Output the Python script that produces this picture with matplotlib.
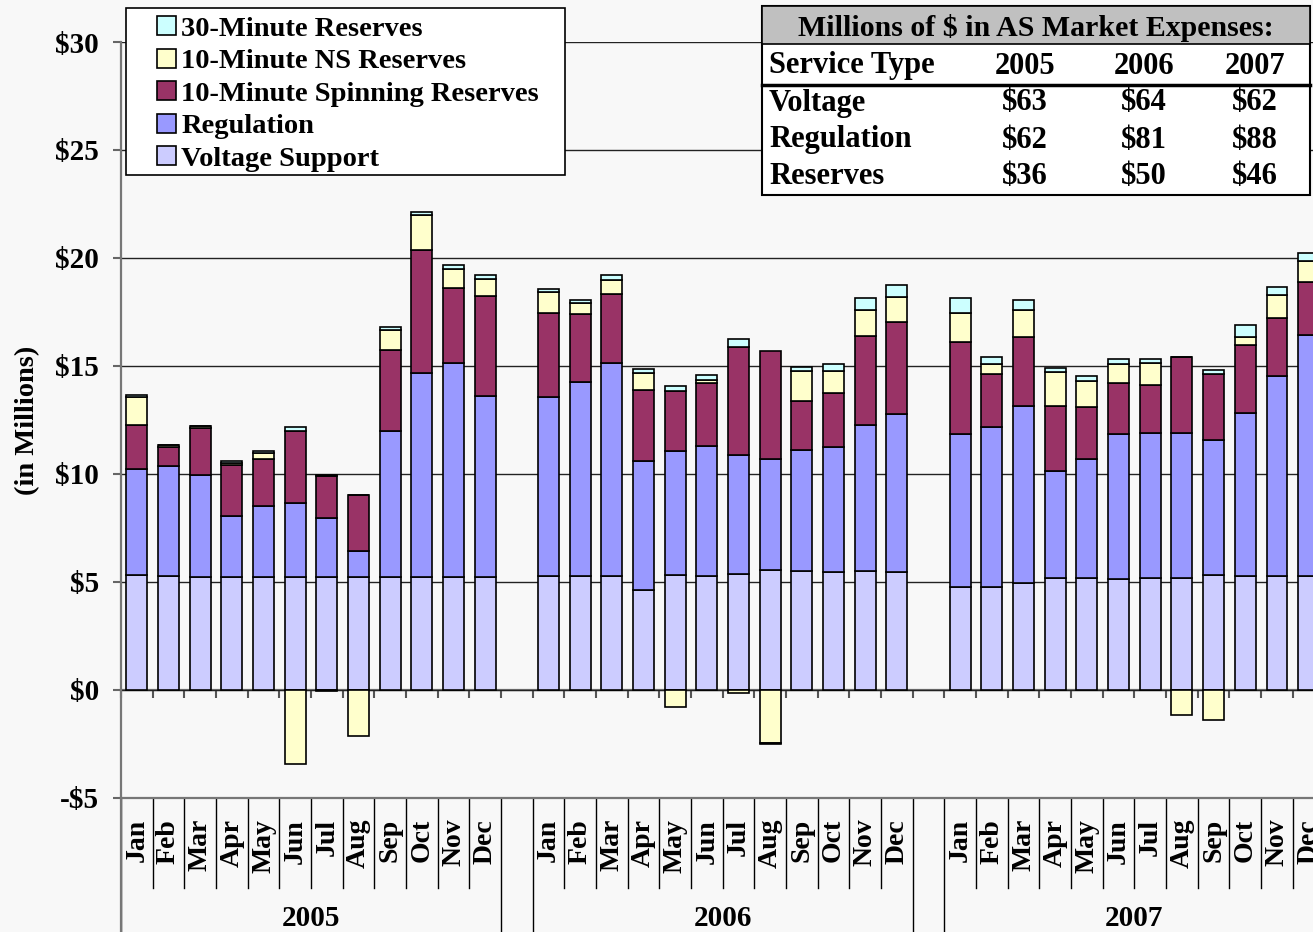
import matplotlib
matplotlib.use("Agg")
import matplotlib.pyplot as plt
import matplotlib.transforms as mtransforms
from matplotlib.patches import Patch, Rectangle
from matplotlib.lines import Line2D
import numpy as np

plt.rcParams['font.family'] = ['Liberation Serif', 'DejaVu Serif']
plt.rcParams['font.weight'] = 'bold'

# ---------------- data ----------------
years = ["2005", "2006", "2007"]
months = ["Jan", "Feb", "Mar", "Apr", "May", "Jun",
          "Jul", "Aug", "Sep", "Oct", "Nov", "Dec"]

# monthly values ($ millions), Jan 2005 ... Dec 2007
voltage_support = [5.32, 5.28, 5.25, 5.25, 5.25, 5.25, 5.25, 5.25, 5.25, 5.25, 5.25, 5.25,
                   5.28, 5.28, 5.28, 4.63, 5.31, 5.28, 5.37, 5.56, 5.51, 5.45, 5.51, 5.48,
                   4.77, 4.75, 4.94, 5.19, 5.19, 5.14, 5.17, 5.20, 5.31, 5.30, 5.30, 5.30]
regulation = [4.93, 5.09, 4.69, 2.81, 3.27, 3.41, 2.70, 1.20, 6.75, 9.44, 9.90, 8.36,
              8.30, 8.99, 9.87, 5.96, 5.75, 6.03, 5.51, 5.12, 5.59, 5.80, 6.74, 7.30,
              7.07, 7.41, 8.23, 4.95, 5.50, 6.70, 6.75, 6.68, 6.28, 7.53, 9.23, 11.12]
spinning_10 = [2.00, 0.90, 2.21, 2.34, 2.19, 3.35, 1.96, 2.58, 3.74, 5.68, 3.46, 4.63,
               3.86, 3.14, 3.17, 3.31, 2.80, 2.92, 5.00, 5.01, 2.28, 2.52, 4.15, 4.24,
               4.29, 2.45, 3.17, 3.03, 2.39, 2.38, 2.21, 3.54, 3.05, 3.12, 2.70, 2.49]
ns_10 = [1.33, 0.05, 0.05, 0.12, 0.28, -3.44, -0.03, -2.13, 0.93, 1.62, 0.88, 0.79,
         0.99, 0.52, 0.66, 0.79, -0.80, 0.11, -0.15, -2.44, 1.37, 0.98, 1.19, 1.19,
         1.32, 0.48, 1.24, 1.53, 1.22, 0.89, 1.01, -1.16, -1.41, 0.41, 1.04, 0.97]
reserves_30 = [0.06, 0.03, 0.03, 0.10, 0.09, 0.17, 0.04, 0.00, 0.15, 0.14, 0.19, 0.17,
               0.15, 0.14, 0.22, 0.17, 0.20, 0.24, 0.35, -0.04, 0.22, 0.34, 0.56, 0.54,
               0.69, 0.33, 0.47, 0.22, 0.25, 0.20, 0.19, 0.00, 0.16, 0.55, 0.37, 0.34]

series_names = ["Voltage Support", "Regulation", "10-Minute Spinning Reserves",
                "10-Minute NS Reserves", "30-Minute Reserves"]
series_values = [voltage_support, regulation, spinning_10, ns_10, reserves_30]
series_colors = ["#CCCCFF", "#9999FF", "#993366", "#FFFFCC", "#CCFFFF"]

table_title = "Millions of $ in AS Market Expenses:"
table_columns = ["Service Type", "2005", "2006", "2007"]
table_rows = ["Voltage", "Regulation", "Reserves"]
table_values = [["$63", "$64", "$62"],
                ["$62", "$81", "$88"],
                ["$36", "$50", "$46"]]

y_ticks = [-5, 0, 5, 10, 15, 20, 25, 30]

# ---------------- figure ----------------
W, H = 1313, 932
BG = "#F8F8F8"
fig = plt.figure(figsize=(W / 100, H / 100), dpi=100)
fig.patch.set_facecolor(BG)

def fx(px):
    return px / W

def fy(py):
    return 1 - py / H

n_cat = 38
cat_w = 31.67
ax_left_px, ax_top_px, ax_bot_px = 121, 42, 798
ax = fig.add_axes([fx(ax_left_px), fy(ax_bot_px), n_cat * cat_w / W, (ax_bot_px - ax_top_px) / H])
ax.set_facecolor(BG)

positions = np.array([yi * 13 + mi for yi in range(len(years)) for mi in range(len(months))])

pos_base = np.zeros(len(positions))
neg_base = np.zeros(len(positions))
for vals, color, name in zip(series_values, series_colors, series_names):
    v = np.array(vals, dtype=float)
    bottoms = np.where(v >= 0, pos_base, neg_base)
    ax.bar(positions, v, width=0.66, bottom=bottoms, color=color,
           edgecolor="black", linewidth=1.2, zorder=3, label=name)
    pos_base += np.where(v >= 0, v, 0)
    neg_base += np.where(v < 0, v, 0)

ax.set_xlim(-0.5, n_cat - 0.5)
ax.set_ylim(-5, 30)
ax.set_yticks(y_ticks)
ax.set_yticklabels([f"${t}" if t >= 0 else f"-${abs(t)}" for t in y_ticks], fontsize=21)
ax.yaxis.grid(True, color="#222222", linewidth=1.0)
ax.set_axisbelow(True)
ax.tick_params(axis="y", length=6, width=1.5, color="#666666", pad=10)

for s in ["top", "right"]:
    ax.spines[s].set_visible(False)
for s in ["left", "bottom"]:
    ax.spines[s].set_color("#777777")
    ax.spines[s].set_linewidth(1.6)

ax.set_xticks(positions)
ax.set_xticklabels(months * len(years), rotation=90, fontsize=20)
ax.tick_params(axis="x", length=0, pad=15)

# category axis at $0 with boundary tick marks
sec = ax.secondary_xaxis(5 / 35)
sec.set_xticks(np.arange(-0.5, n_cat, 1.0))
sec.set_xticklabels([])
sec.tick_params(axis="x", direction="out", length=6, width=1.5, color="#555555")
sec.spines["bottom"].set_color("#777777")
sec.spines["bottom"].set_linewidth(1.6)

# multi-level category separators
trans = mtransforms.blended_transform_factory(ax.transData, ax.transAxes)
ax_h_px = ax_bot_px - ax_top_px
sep_short = -(888 - ax_bot_px) / ax_h_px
sep_long = -(H - ax_bot_px + 5) / ax_h_px
for gi, yr in enumerate(years):
    start = gi * 13
    for k in range(11):
        xb = start + k + 0.5
        ax.plot([xb, xb], [0, sep_short], transform=trans, color="black", lw=1.0, clip_on=False)
    for xb in (start - 0.5, start + 11.5):
        ax.plot([xb, xb], [0, sep_long], transform=trans, color="black", lw=1.0, clip_on=False)
    ax.text(start + 5.5, -(918 - ax_bot_px) / ax_h_px, yr, transform=trans,
            ha="center", va="center", fontsize=21)

# y axis extension to figure bottom
fig.add_artist(Line2D([fx(ax_left_px), fx(ax_left_px)], [fy(ax_bot_px), 0],
                      color="#777777", lw=1.6))

fig.text(fx(28), fy(420), "(in Millions)", rotation=90, ha="center", va="center", fontsize=20.5)

# legend
fig.add_artist(Rectangle((fx(126), fy(175)), fx(565) - fx(126), fy(8) - fy(175),
                         transform=fig.transFigure, facecolor="white",
                         edgecolor="black", lw=1.2, zorder=4))
handles = [Patch(facecolor=c, edgecolor="black", lw=1.2) for c in series_colors][::-1]
leg = fig.legend(handles, series_names[::-1], loc="upper left",
                 bbox_to_anchor=(fx(157), fy(16)), frameon=False, fontsize=20.5,
                 handlelength=0.65, handleheight=0.65, handletextpad=0.2,
                 labelspacing=0.25, borderpad=0, borderaxespad=0)
leg.set_zorder(5)

# summary table
tx0, tx1, ty0, ty1 = 762, 1310, 6, 195
fig.add_artist(Rectangle((fx(tx0), fy(ty1)), fx(tx1) - fx(tx0), fy(ty0) - fy(ty1),
                         transform=fig.transFigure, facecolor="white",
                         edgecolor="black", lw=1.5, zorder=4))
fig.add_artist(Rectangle((fx(tx0), fy(44)), fx(tx1) - fx(tx0), fy(ty0) - fy(44),
                         transform=fig.transFigure, facecolor="#C0C0C0",
                         edgecolor="black", lw=1.2, zorder=4))
fig.add_artist(Line2D([fx(tx0), fx(tx1)], [fy(85), fy(85)], color="black", lw=2.5, zorder=5))
fig.text(fx((tx0 + tx1) / 2), fy(28), table_title, ha="center", va="center",
         fontsize=21.5, zorder=6)
col_x = [769, 1025, 1144, 1255]
row_y = [66, 103, 140, 177]
for ci, c in enumerate(table_columns):
    fig.text(fx(col_x[ci]), fy(row_y[0]), c, ha="left" if ci == 0 else "center",
             va="center", fontsize=22, zorder=6)
for ri, rname in enumerate(table_rows):
    fig.text(fx(col_x[0]), fy(row_y[ri + 1]), rname, ha="left", va="center", fontsize=22, zorder=6)
    for ci, val in enumerate(table_values[ri]):
        fig.text(fx(col_x[ci + 1]), fy(row_y[ri + 1]), val, ha="center", va="center",
                 fontsize=22, zorder=6)

fig.savefig("out.png", dpi=100, facecolor=BG)
